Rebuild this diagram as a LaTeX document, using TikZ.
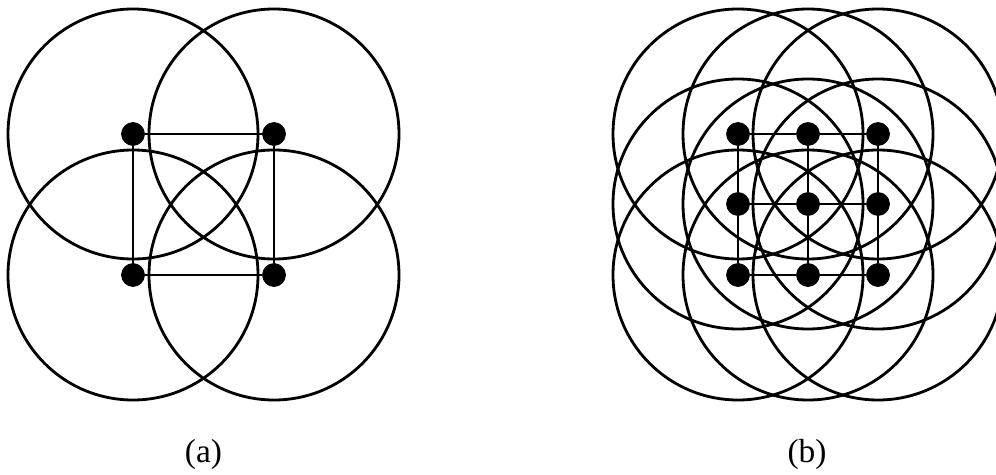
\documentclass[tikz,border=0pt]{standalone}
\usepackage{fontspec}
\setmainfont{Liberation Serif}
\usepackage{tikz}
\usetikzlibrary{positioning}

\begin{document}
\begin{tikzpicture}[x=0.02cm, y=0.02cm,
    sensor/.style={draw, circle, fill=black, inner sep=0pt, minimum size=0.46cm},
    coverage/.style={line width=1.6pt},
    link/.style={line width=1.3pt},
    caption/.style={font=\fontsize{19}{22}\selectfont}]
    \useasboundingbox (0,0) rectangle (996,474);

    % (a) four sensors
    \node[sensor] (a11) at (133,340) {};
    \node[sensor] (a12) at (274,340) {};
    \node[sensor] (a21) at (133,199) {};
    \node[sensor] (a22) at (274,199) {};

    \foreach \n in {a11,a12,a21,a22}
        \draw[coverage] (\n.center) circle (125);

    \draw[link] (a11) -- (a12);
    \draw[link] (a21) -- (a22);
    \draw[link] (a11) -- (a21);
    \draw[link] (a12) -- (a22);

    \node[caption] (capa) at (203.5,20) {(a)};

    % (b) nine sensors
    \foreach \i/\y in {1/340,2/270,3/199}
        \foreach \j/\x in {1/738,2/808,3/878}
            \node[sensor] (b\i\j) at (\x,\y) {};

    \foreach \i in {1,2,3}
        \foreach \j in {1,2,3}
            \draw[coverage] (b\i\j.center) circle (125);

    \foreach \i in {1,2,3} {
        \draw[link] (b\i1) -- (b\i2) -- (b\i3);
        \draw[link] (b1\i) -- (b2\i) -- (b3\i);
    }

    \node[caption] (capb) at (807,20) {(b)};
\end{tikzpicture}
\end{document}
